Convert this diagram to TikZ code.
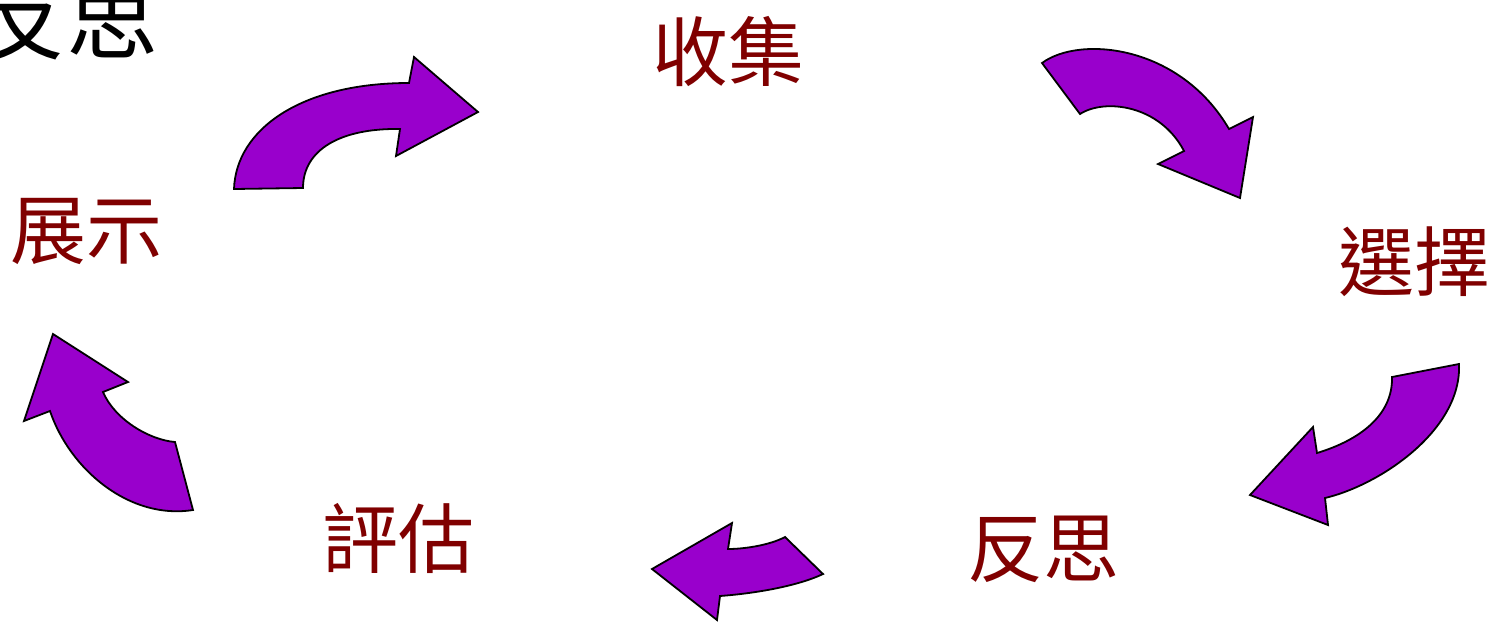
\documentclass[tikz,border=0pt]{standalone}
\usepackage{fontspec}
\newfontfamily\cjk{Noto Sans CJK TC}
\definecolor{arrowpurple}{RGB}{153,0,204}
\definecolor{labelred}{RGB}{128,0,0}
\tikzset{
  blockarrow/.style={fill=arrowpurple, draw=black, line width=1.8pt, line join=miter},
  steplabel/.style={text=labelred, font=\cjk\fontsize{76}{86}\selectfont, inner sep=0pt, anchor=center},
  titlelabel/.style={text=black, font=\cjk\fontsize{92}{100}\selectfont, inner sep=0pt, anchor=center}
}
\begin{document}
\begin{tikzpicture}[x=1pt,y=-1pt]
\useasboundingbox (0,0) rectangle (1490,622);
\clip (0,0) rectangle (1490,622);
\fill[white] (0,0) rectangle (1490,622);

% labels
\node[titlelabel] (title) at (66,20) {反思};
\node[steplabel] (collect) at (728,52) {收集};
\node[steplabel] (select) at (1414,262) {選擇};
\node[steplabel] (reflect) at (1043,549) {反思};
\node[steplabel] (assess) at (398,538) {評估};
\node[steplabel] (show) at (86,231) {展示};

% arrow: show -> collect
\draw[blockarrow] (234,189) .. controls (236,130) and (300,83) .. (409,83)
  -- (414,57) -- (478,112) -- (396,156) -- (400,129)
  .. controls (340,128) and (303,150) .. (303,188) -- cycle;

% arrow: collect -> select
\draw[blockarrow] (1042,63) .. controls (1080,35) and (1180,45) .. (1229,129)
  -- (1253,117) -- (1240,198) -- (1158,164) -- (1184,151)
  .. controls (1160,105) and (1105,98) .. (1080,114) -- cycle;

% arrow: select -> reflect
\draw[blockarrow] (1459,364) .. controls (1462,430) and (1380,485) .. (1325,498)
  -- (1328,525) -- (1250,495) -- (1313,427) -- (1317,453)
  .. controls (1360,440) and (1393,415) .. (1392,377) -- cycle;

% arrow: reflect -> assess
\draw[blockarrow] (823,574) .. controls (800,585) and (760,593) .. (720,596)
  -- (717,620) -- (652,569) -- (732,523) -- (728,549)
  .. controls (745,549) and (770,545) .. (785,537) -- cycle;

% arrow: assess -> show
\draw[blockarrow] (193,510) .. controls (130,520) and (70,470) .. (50,411)
  -- (24,421) -- (53,334) -- (128,382) -- (103,392)
  .. controls (115,420) and (150,440) .. (175,442) -- cycle;
\end{tikzpicture}
\end{document}
